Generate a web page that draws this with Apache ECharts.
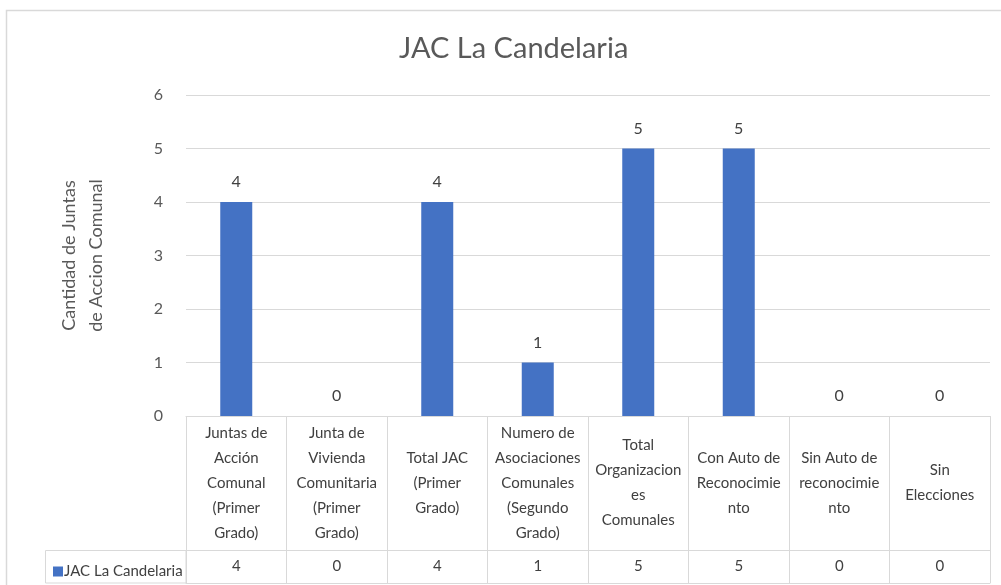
<!DOCTYPE html>
<html>
<head>
<meta charset="utf-8">
<script src="https://cdn.jsdelivr.net/npm/echarts@6/dist/echarts.min.js"></script>
<style>
  html, body { margin: 0; padding: 0; background: #fff; }
  #chart { width: 1001px; height: 585px; }
</style>
</head>
<body>
<div id="chart"></div>
<script>
// datos del grafico
const categorias = [
  "Juntas de\nAcción\nComunal\n(Primer\nGrado)",
  "Junta de\nVivienda\nComunitaria\n(Primer\nGrado)",
  "Total JAC\n(Primer\nGrado)",
  "Numero de\nAsociaciones\nComunales\n(Segundo\nGrado)",
  "Total\nOrganizacion\nes\nComunales",
  "Con Auto de\nReconocimie\nnto",
  "Sin Auto de\nreconocimie\nnto",
  "Sin\nElecciones"
];
const valores = [4, 0, 4, 1, 5, 5, 0, 0];
const serieNombre = "JAC La Candelaria";
const yTicks = [0, 1, 2, 3, 4, 5, 6];

const fuente = "Lato, 'Open Sans', sans-serif";
const gris = "#d9d9d9";

const chart = echarts.init(document.getElementById("chart"));

const option = {
  animation: false,
  title: {
    text: "JAC La Candelaria",
    left: 394,
    top: 29,
    textStyle: { color: "#595959", fontFamily: fuente, fontSize: 29, fontWeight: "normal" }
  },
  legend: {
    data: [serieNombre],
    left: 48,
    top: 559,
    icon: "rect",
    itemWidth: 10,
    itemHeight: 10,
    itemGap: 2,
    textStyle: { color: "#404040", fontFamily: fuente, fontSize: 15, padding: [0, 0, 0, -4] }
  },
  grid: { left: 186, right: 11, top: 95, bottom: 169 },
  graphic: [
    {
      type: "rect",
      shape: { x: 6.5, y: 10.5, width: 1010, height: 600 },
      style: { fill: null, stroke: gris, lineWidth: 1.5 },
      silent: true
    },
    {
      type: "rect",
      shape: { x: 45.5, y: 550.5, width: 140.5, height: 32.5 },
      style: { fill: null, stroke: gris, lineWidth: 1 },
      silent: true
    }
  ],
  xAxis: [
    {
      type: "category",
      data: categorias,
      axisLine: { show: true, lineStyle: { color: gris } },
      axisTick: { show: true, interval: 0, length: 167, lineStyle: { color: gris } },
      axisLabel: {
        interval: 0,
        margin: 67,
        verticalAlign: "middle",
        color: "#404040",
        fontFamily: fuente,
        fontSize: 15,
        lineHeight: 25
      }
    },
    {
      type: "category",
      data: categorias,
      position: "bottom",
      offset: 134,
      axisLine: { show: true, lineStyle: { color: gris } },
      axisTick: { show: false },
      axisLabel: {
        interval: 0,
        margin: 16,
        verticalAlign: "middle",
        color: "#404040",
        fontFamily: fuente,
        fontSize: 15,
        formatter: function (v, i) { return String(valores[i]); }
      }
    },
    {
      type: "category",
      data: categorias,
      position: "bottom",
      offset: 167,
      axisLine: { show: true, lineStyle: { color: gris } },
      axisTick: { show: false },
      axisLabel: { show: false }
    }
  ],
  yAxis: {
    type: "value",
    min: yTicks[0],
    max: yTicks[yTicks.length - 1],
    interval: 1,
    name: "Cantidad de Juntas\nde Accion Comunal",
    nameLocation: "middle",
    nameGap: 76,
    nameTextStyle: { color: "#595959", fontFamily: fuente, fontSize: 18, lineHeight: 27 },
    axisLine: { show: false },
    axisTick: { show: false },
    axisLabel: { color: "#595959", fontFamily: fuente, fontSize: 16, margin: 23 },
    splitLine: { show: true, lineStyle: { color: gris } }
  },
  series: [
    {
      name: serieNombre,
      type: "bar",
      xAxisIndex: 0,
      data: valores,
      barWidth: 32,
      itemStyle: { color: "#4472c4" },
      label: {
        show: true,
        position: "top",
        distance: 12,
        color: "#404040",
        fontFamily: fuente,
        fontSize: 16
      }
    }
  ]
};

chart.setOption(option);
</script>
</body>
</html>
